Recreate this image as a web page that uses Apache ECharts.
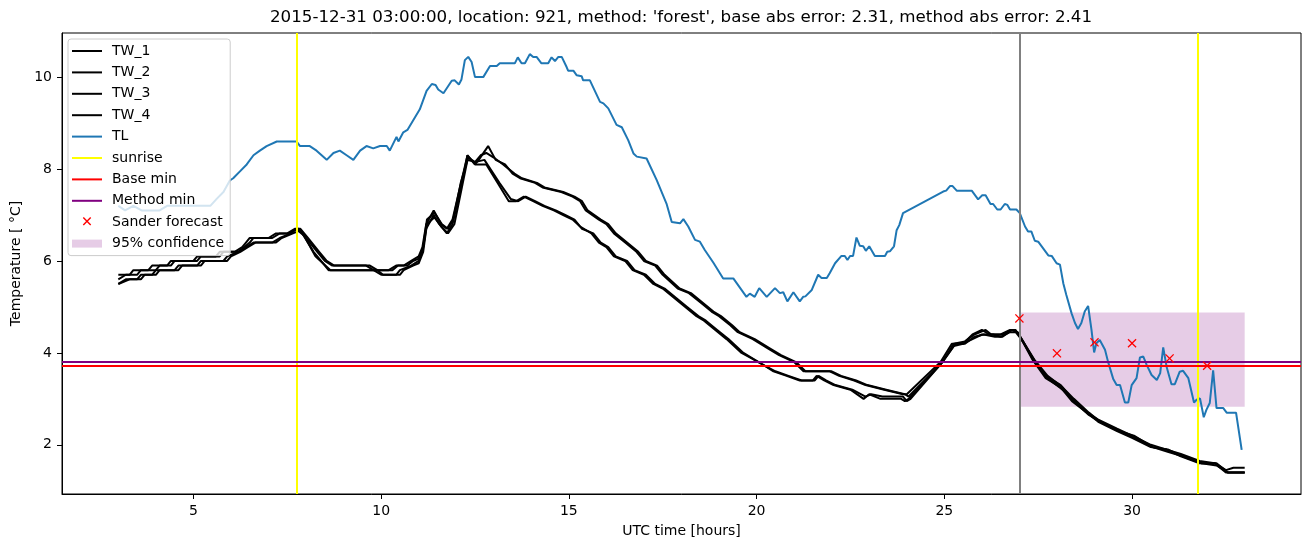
<!DOCTYPE html>
<html>
<head>
<meta charset="utf-8">
<script src="https://cdn.jsdelivr.net/npm/echarts@6/dist/echarts.min.js"></script>
<style>html,body{margin:0;padding:0;background:#fff}#c{width:1310px;height:547px}</style>
</head>
<body>
<div id="c"></div>
<script>
// ---- data (hours UTC, temperature °C) ----
const titleText = "2015-12-31 03:00:00, location: 921, method: 'forest', base abs error: 2.31, method abs error: 2.41";
const xTicks = [5, 10, 15, 20, 25, 30];
const yTicks = [2, 4, 6, 8, 10];

const TL = [[3.0,7.2],[3.18,7.1],[3.4,7.2],[3.62,7.1],[4.1,7.1],[4.3,7.2],[5.45,7.2],[5.62,7.35],[5.8,7.5],[5.97,7.75],[6.06,7.8],[6.24,7.95],[6.42,8.1],[6.6,8.3],[6.77,8.4],[6.95,8.5],[7.22,8.6],[7.75,8.6],[7.84,8.5],[8.1,8.5],[8.28,8.4],[8.55,8.2],[8.73,8.35],[8.9,8.4],[9.08,8.3],[9.26,8.2],[9.44,8.4],[9.61,8.5],[9.79,8.45],[9.97,8.5],[10.15,8.5],[10.23,8.4],[10.41,8.7],[10.46,8.6],[10.59,8.8],[10.7,8.85],[11.03,9.3],[11.21,9.7],[11.35,9.85],[11.45,9.83],[11.52,9.73],[11.66,9.65],[11.88,9.92],[11.96,9.93],[12.07,9.84],[12.14,9.95],[12.23,10.37],[12.32,10.44],[12.41,10.33],[12.5,10.0],[12.72,10.0],[12.9,10.24],[13.08,10.24],[13.16,10.3],[13.56,10.3],[13.64,10.43],[13.74,10.3],[13.83,10.3],[13.96,10.5],[14.05,10.44],[14.14,10.44],[14.27,10.3],[14.45,10.3],[14.54,10.43],[14.63,10.35],[14.72,10.44],[14.81,10.44],[14.94,10.22],[14.98,10.14],[15.12,10.14],[15.21,10.04],[15.34,10.02],[15.38,9.93],[15.56,9.93],[15.83,9.46],[15.92,9.43],[16.05,9.32],[16.27,8.96],[16.41,8.91],[16.58,8.63],[16.72,8.34],[16.81,8.27],[17.07,8.23],[17.34,7.76],[17.6,7.25],[17.74,6.85],[17.96,6.82],[18.05,6.91],[18.18,6.75],[18.36,6.46],[18.49,6.42],[18.62,6.24],[18.85,5.96],[19.11,5.62],[19.38,5.62],[19.73,5.22],[19.82,5.29],[19.95,5.22],[20.07,5.41],[20.27,5.22],[20.49,5.41],[20.62,5.3],[20.71,5.32],[20.82,5.12],[20.98,5.32],[21.15,5.12],[21.24,5.22],[21.3,5.23],[21.47,5.37],[21.64,5.7],[21.73,5.63],[21.87,5.63],[21.95,5.74],[22.09,5.95],[22.26,6.11],[22.35,6.11],[22.42,6.02],[22.49,6.11],[22.57,6.11],[22.66,6.51],[22.75,6.33],[22.84,6.32],[22.91,6.22],[23.0,6.32],[23.15,6.11],[23.42,6.11],[23.48,6.2],[23.55,6.21],[23.66,6.32],[23.73,6.67],[23.8,6.78],[23.9,7.04],[24.97,7.51],[25.05,7.53],[25.15,7.63],[25.22,7.63],[25.33,7.53],[25.73,7.53],[25.9,7.34],[26.01,7.43],[26.1,7.43],[26.23,7.24],[26.3,7.24],[26.41,7.12],[26.5,7.12],[26.61,7.24],[26.68,7.22],[26.75,7.12],[26.92,7.12],[27.01,7.04],[27.15,6.75],[27.23,6.64],[27.32,6.64],[27.41,6.44],[27.5,6.42],[27.77,6.12],[27.86,6.11],[27.99,5.95],[28.08,5.92],[28.17,5.51],[28.25,5.26],[28.39,4.86],[28.48,4.65],[28.56,4.52],[28.65,4.65],[28.74,4.9],[28.83,5.02],[28.92,4.5],[28.99,4.01],[29.05,4.21],[29.14,4.28],[29.28,4.07],[29.36,3.81],[29.5,3.43],[29.59,3.3],[29.68,3.3],[29.81,2.92],[29.9,2.92],[29.99,3.3],[30.12,3.45],[30.21,3.9],[30.3,3.92],[30.39,3.74],[30.52,3.52],[30.66,3.41],[30.75,3.56],[30.83,4.12],[30.92,3.7],[31.05,3.32],[31.14,3.32],[31.27,3.59],[31.36,3.61],[31.5,3.45],[31.65,2.92],[31.72,2.98],[31.81,3.01],[31.91,2.6],[31.98,2.76],[32.07,2.91],[32.16,3.62],[32.25,2.8],[32.43,2.8],[32.52,2.7],[32.77,2.7],[32.92,1.89]];

const TW_1 = [[3.0,5.7],[3.3,5.7],[3.4,5.8],[3.8,5.8],[3.9,5.9],[4.3,5.9],[4.4,6.0],[5.0,6.0],[5.1,6.1],[5.6,6.1],[5.7,6.2],[6.1,6.2],[6.3,6.3],[6.4,6.4],[6.5,6.5],[7.0,6.5],[7.2,6.6],[7.5,6.6],[7.7,6.7],[7.8,6.7],[8.0,6.5],[8.3,6.2],[8.5,6.0],[8.7,5.9],[9.6,5.9],[9.8,5.8],[10.2,5.8],[10.4,5.9],[10.6,5.9],[10.8,6.0],[11.0,6.1],[11.1,6.3],[11.2,6.8],[11.4,7.1],[11.6,6.8],[11.75,6.7],[11.9,6.9],[12.1,7.6],[12.3,8.3],[12.5,8.1],[12.6,8.2],[12.85,8.5],[13.05,8.2],[13.3,8.1],[13.5,7.9],[13.7,7.8],[14.1,7.7],[14.3,7.6],[14.8,7.5],[15.1,7.4],[15.3,7.3],[15.45,7.1],[15.8,6.9],[16.0,6.8],[16.2,6.6],[16.5,6.4],[16.8,6.2],[17.0,6.0],[17.3,5.9],[17.5,5.7],[17.9,5.4],[18.2,5.3],[18.5,5.1],[18.8,4.9],[19.0,4.8],[19.3,4.6],[19.5,4.45],[19.9,4.3],[20.3,4.1],[20.6,3.95],[21.0,3.8],[21.25,3.6],[21.95,3.6],[22.2,3.5],[22.6,3.4],[22.9,3.3],[23.4,3.2],[23.9,3.1],[24.0,3.1],[24.9,3.8],[25.2,4.2],[25.5,4.2],[25.75,4.4],[26.0,4.5],[26.2,4.4],[26.5,4.4],[26.75,4.5],[26.9,4.5],[27.05,4.3],[27.35,3.9],[27.7,3.5],[28.1,3.3],[28.4,3.0],[28.8,2.7],[29.1,2.55],[29.6,2.35],[30.0,2.2],[30.5,2.0],[30.9,1.9],[31.3,1.8],[31.8,1.65],[32.2,1.6],[32.5,1.45],[32.7,1.5],[33.0,1.5]];

const TW_2 = [[3.0,5.6],[3.2,5.7],[3.5,5.7],[3.6,5.8],[4.0,5.8],[4.1,5.9],[4.4,5.9],[4.5,6.0],[5.1,6.0],[5.2,6.1],[5.7,6.1],[5.8,6.2],[6.2,6.2],[6.35,6.3],[6.5,6.4],[6.6,6.5],[7.1,6.5],[7.3,6.6],[7.55,6.6],[7.75,6.7],[7.85,6.7],[8.05,6.5],[8.35,6.2],[8.55,6.0],[8.75,5.9],[9.7,5.9],[9.9,5.8],[10.3,5.8],[10.45,5.9],[10.7,5.9],[10.85,6.0],[11.0,6.05],[11.12,6.3],[11.22,6.9],[11.42,7.05],[11.62,6.8],[11.78,6.7],[11.92,6.9],[12.12,7.7],[12.32,8.25],[12.5,8.15],[12.65,8.3],[12.8,8.35],[13.0,8.25],[13.25,8.1],[13.55,7.9],[13.75,7.8],[14.15,7.7],[14.35,7.6],[14.85,7.5],[15.15,7.4],[15.35,7.3],[15.5,7.1],[15.85,6.9],[16.05,6.8],[16.25,6.6],[16.55,6.4],[16.85,6.2],[17.05,6.0],[17.35,5.9],[17.55,5.7],[17.95,5.4],[18.25,5.3],[18.55,5.1],[18.85,4.9],[19.05,4.8],[19.35,4.6],[19.55,4.45],[19.95,4.3],[20.35,4.1],[20.65,3.95],[21.05,3.8],[21.3,3.6],[22.0,3.6],[22.25,3.5],[22.65,3.4],[22.95,3.3],[23.45,3.2],[23.95,3.1],[24.05,3.05],[24.95,3.8],[25.25,4.2],[25.55,4.25],[25.8,4.4],[26.1,4.5],[26.25,4.4],[26.55,4.4],[26.8,4.5],[26.95,4.45],[27.1,4.25],[27.4,3.85],[27.75,3.5],[28.15,3.25],[28.45,3.0],[28.85,2.7],[29.15,2.5],[29.65,2.3],[30.05,2.2],[30.55,1.95],[30.95,1.9],[31.35,1.75],[31.85,1.6],[32.25,1.6],[32.55,1.4],[33.0,1.4]];

const TW_3 = [[3.0,5.5],[3.2,5.6],[3.5,5.6],[3.6,5.7],[3.9,5.7],[4.0,5.8],[4.5,5.8],[4.6,5.9],[5.1,5.9],[5.2,6.0],[5.8,6.0],[5.9,6.1],[6.2,6.2],[6.4,6.3],[6.6,6.4],[7.1,6.4],[7.3,6.5],[7.6,6.6],[7.75,6.7],[7.9,6.6],[8.2,6.2],[8.4,6.0],[8.6,5.8],[9.8,5.8],[10.0,5.7],[10.4,5.7],[10.5,5.8],[10.8,5.9],[11.0,6.0],[11.1,6.2],[11.2,6.7],[11.4,7.0],[11.55,6.8],[11.75,6.6],[11.9,6.8],[12.1,7.5],[12.3,8.3],[12.5,8.1],[12.8,8.1],[13.1,7.7],[13.4,7.3],[13.6,7.3],[13.8,7.4],[14.05,7.3],[14.3,7.2],[14.6,7.1],[14.85,7.0],[15.1,6.9],[15.3,6.75],[15.6,6.6],[15.8,6.4],[16.0,6.3],[16.2,6.1],[16.5,6.0],[16.7,5.8],[17.0,5.7],[17.25,5.5],[17.5,5.4],[17.8,5.2],[18.1,5.0],[18.4,4.8],[18.6,4.7],[18.9,4.5],[19.2,4.3],[19.4,4.15],[19.6,4.0],[20.1,3.78],[20.45,3.6],[20.8,3.5],[21.15,3.4],[21.5,3.4],[21.6,3.5],[21.8,3.4],[22.05,3.3],[22.5,3.2],[22.85,3.0],[23.0,3.1],[23.3,3.0],[23.85,3.0],[23.95,2.95],[24.05,3.0],[24.9,3.75],[25.25,4.15],[25.5,4.2],[25.75,4.3],[26.0,4.4],[26.3,4.4],[26.5,4.35],[26.75,4.45],[26.9,4.45],[27.05,4.3],[27.35,3.85],[27.7,3.45],[28.1,3.25],[28.4,2.95],[28.8,2.7],[29.1,2.5],[29.6,2.3],[30.0,2.15],[30.5,1.95],[30.9,1.9],[31.3,1.75],[31.8,1.6],[32.2,1.6],[32.5,1.4],[33.0,1.4]];

const TW_4 = [[3.0,5.5],[3.3,5.6],[3.6,5.6],[3.7,5.7],[4.0,5.7],[4.1,5.8],[4.6,5.8],[4.7,5.9],[5.2,5.9],[5.3,6.0],[5.9,6.0],[6.0,6.1],[6.25,6.2],[6.45,6.3],[6.65,6.4],[7.2,6.4],[7.35,6.5],[7.65,6.6],[7.8,6.65],[7.95,6.55],[8.25,6.1],[8.45,5.95],[8.65,5.8],[9.9,5.8],[10.05,5.7],[10.5,5.7],[10.6,5.8],[10.85,5.9],[11.0,5.95],[11.12,6.2],[11.22,6.8],[11.42,6.95],[11.6,6.75],[11.78,6.6],[11.95,6.8],[12.15,7.6],[12.3,8.2],[12.5,8.15],[12.75,8.2],[13.15,7.7],[13.45,7.35],[13.65,7.3],[13.85,7.4],[14.1,7.3],[14.35,7.2],[14.65,7.1],[14.9,7.0],[15.15,6.9],[15.35,6.7],[15.65,6.6],[15.85,6.4],[16.05,6.3],[16.25,6.1],[16.55,6.0],[16.75,5.8],[17.05,5.7],[17.3,5.5],[17.55,5.4],[17.85,5.2],[18.15,5.0],[18.45,4.8],[18.65,4.7],[18.95,4.5],[19.25,4.3],[19.45,4.15],[19.65,4.0],[20.15,3.75],[20.5,3.6],[20.85,3.5],[21.2,3.4],[21.55,3.4],[21.65,3.5],[21.85,3.4],[22.1,3.3],[22.55,3.2],[22.9,3.05],[23.05,3.1],[23.35,3.05],[23.9,3.05],[24.0,2.95],[24.1,3.0],[24.95,3.8],[25.3,4.2],[25.55,4.2],[25.8,4.35],[26.05,4.4],[26.35,4.35],[26.55,4.35],[26.8,4.5],[26.95,4.45],[27.1,4.25],[27.4,3.8],[27.75,3.45],[28.15,3.2],[28.45,2.95],[28.85,2.65],[29.15,2.5],[29.65,2.3],[30.05,2.15],[30.55,1.95],[30.95,1.85],[31.35,1.75],[31.85,1.6],[32.25,1.55],[32.55,1.4],[33.0,1.4]];

const sunriseHours = [7.75, 31.75];
const forecastStart = 27.0;
const baseMin = 3.72;
const methodMin = 3.81;
const sanderForecast = [[27,4.75],[28,3.99],[29,4.23],[30,4.21],[31,3.88],[32,3.72]];
const confidence = {x0: 27.0, x1: 33.0, low: 2.83, high: 4.88};

// ---- chart ----
const FONT = 'DejaVu Sans';
const X_PATH = 'path://M0,0M30,14M10.8,2.8L11.8,1.8L15,5L18.2,1.8L19.2,2.8L16,6L19.2,9.2L18.2,10.2L15,7L11.8,10.2L10.8,9.2L14,6Z';
const X_SYMBOL = 'path://M0,1L1,0L5,4L9,0L10,1L6,5L10,9L9,10L5,6L1,10L0,9L4,5Z';
const LINE_ICON = 'path://M0,0H30V2H0Z';

function twSeries(name, data) {
  return {
    name, type: 'line', data, showSymbol: false, symbol: 'none', z: 3,
    lineStyle: {color: '#000', width: 2}, itemStyle: {color: '#000'},
    silent: true, animation: false
  };
}
function markLineSeries(name, color, data, z) {
  return {
    name, type: 'line', data: [], symbol: 'none', z,
    lineStyle: {color, width: 2}, itemStyle: {color},
    markLine: {silent: true, symbol: 'none', label: {show: false}, animation: false,
      lineStyle: {color, width: 2, type: 'solid'}, data}
  };
}

const option = {
  animation: false,
  textStyle: {fontFamily: FONT},
  grid: {left: 62, right: 9, top: 33, bottom: 53, show: true, borderColor: '#000', borderWidth: 1,
         backgroundColor: 'transparent', containLabel: false, outerBoundsMode: 'none'},
  graphic: [{
    type: 'text', x: 681, y: 18, z: 10,
    style: {text: titleText, fontFamily: FONT, fontSize: 16.7, fill: '#000', textAlign: 'center', textVerticalAlign: 'middle'}
  }],
  xAxis: {
    type: 'value', min: 1.5, max: 34.5,
    axisLine: {show: true, lineStyle: {color: '#000', width: 1}},
    axisTick: {show: true, length: 5, lineStyle: {color: '#000'}, customValues: xTicks},
    axisLabel: {color: '#000', fontSize: 14, fontFamily: FONT, margin: 10, customValues: xTicks},
    splitLine: {show: false},
    name: 'UTC time [hours]', nameLocation: 'middle', nameGap: 30,
    nameTextStyle: {color: '#000', fontSize: 14, fontFamily: FONT}
  },
  yAxis: {
    type: 'value', min: 0.93, max: 10.96,
    axisLine: {show: true, lineStyle: {color: '#000', width: 1}},
    axisTick: {show: true, length: 5, lineStyle: {color: '#000'}, customValues: yTicks},
    axisLabel: {color: '#000', fontSize: 14, fontFamily: FONT, margin: 10, customValues: yTicks},
    splitLine: {show: false},
    name: 'Temperature [ °C]', nameLocation: 'middle', nameGap: 37, nameRotate: 90,
    nameTextStyle: {color: '#000', fontSize: 14, fontFamily: FONT}
  },
  legend: {
    orient: 'vertical', left: 68, top: 39,
    padding: [5, 6, 5, 4], itemWidth: 30, itemHeight: 14, itemGap: 7.4,
    backgroundColor: 'rgba(255,255,255,0.8)', borderColor: '#cccccc', borderWidth: 1, borderRadius: 3,
    textStyle: {color: '#000', fontSize: 14, fontFamily: FONT, padding: [0, 0, 0, 5]},
    selectedMode: false, z: 20,
    data: [
      {name: 'TW_1', icon: LINE_ICON, itemStyle: {color: '#000'}},
      {name: 'TW_2', icon: LINE_ICON, itemStyle: {color: '#000'}},
      {name: 'TW_3', icon: LINE_ICON, itemStyle: {color: '#000'}},
      {name: 'TW_4', icon: LINE_ICON, itemStyle: {color: '#000'}},
      {name: 'TL', icon: LINE_ICON, itemStyle: {color: '#1f77b4'}},
      {name: 'sunrise', icon: LINE_ICON, itemStyle: {color: '#ffff00'}},
      {name: 'Base min', icon: LINE_ICON, itemStyle: {color: '#ff0000'}},
      {name: 'Method min', icon: LINE_ICON, itemStyle: {color: '#800080'}},
      {name: 'Sander forecast', icon: X_PATH, itemStyle: {color: '#ff0000'}},
      {name: '95% confidence', icon: 'path://M0,0H30V8H0Z', itemStyle: {color: 'rgba(128,0,128,0.2)'}}
    ]
  },
  series: [
    twSeries('TW_1', TW_1), twSeries('TW_2', TW_2), twSeries('TW_3', TW_3), twSeries('TW_4', TW_4),
    {name: 'TL', type: 'line', data: TL, showSymbol: false, symbol: 'none', z: 4,
     lineStyle: {color: '#1f77b4', width: 2}, itemStyle: {color: '#1f77b4'}, silent: true},
    markLineSeries('sunrise', '#ffff00', sunriseHours.map(h => ({xAxis: h})), 6),
    markLineSeries('forecast start', '#808080', [{xAxis: forecastStart}], 6),
    markLineSeries('Base min', '#ff0000', [{yAxis: baseMin}], 6),
    markLineSeries('Method min', '#800080', [{yAxis: methodMin}], 6),
    {name: 'Sander forecast', type: 'scatter', data: sanderForecast, symbol: X_SYMBOL, symbolSize: 9, z: 8,
     itemStyle: {color: '#ff0000', opacity: 1}, silent: true},
    {name: '95% confidence', type: 'line', data: [], symbol: 'none', z: 1,
     lineStyle: {color: 'rgba(128,0,128,0.2)', width: 0}, itemStyle: {color: 'rgba(128,0,128,0.2)'},
     markArea: {silent: true, itemStyle: {color: 'rgba(128,0,128,0.2)'}, label: {show: false},
       data: [[{xAxis: confidence.x0, yAxis: confidence.low}, {xAxis: confidence.x1, yAxis: confidence.high}]]}}
  ]
};
const chart = echarts.init(document.getElementById('c'), null, {renderer: 'canvas'});
chart.setOption(option);
</script>
</body>
</html>
